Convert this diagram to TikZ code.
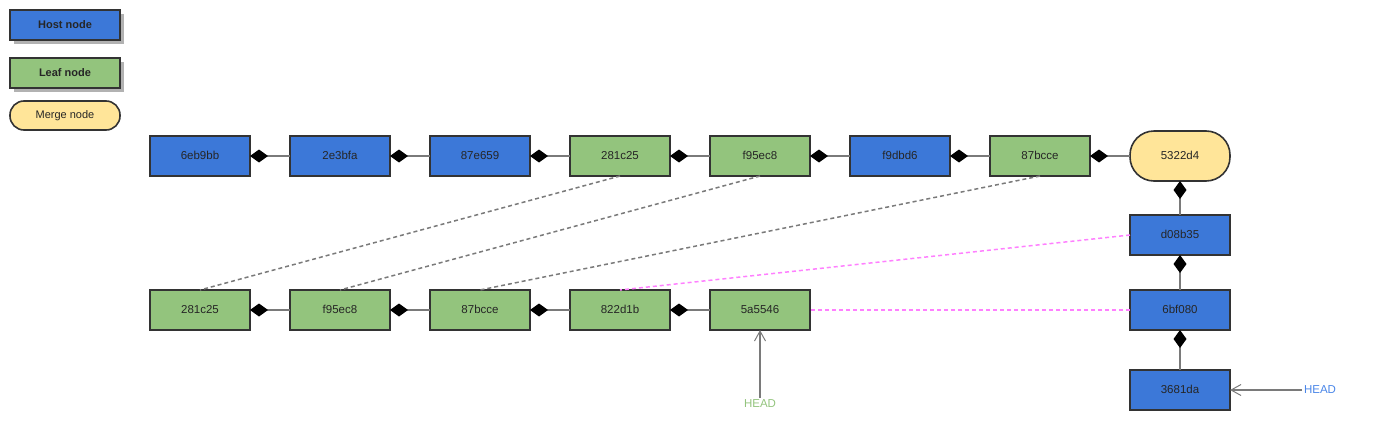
\documentclass[tikz,border=0pt]{standalone}
\usepackage{fontspec}
\setmainfont{Liberation Sans}
\usetikzlibrary{arrows.meta,positioning,shadows}

\definecolor{hostblue}{HTML}{3C78D8}
\definecolor{leafgreen}{HTML}{93C47D}
\definecolor{mergeyellow}{HTML}{FFE599}
\definecolor{edgegray}{HTML}{7A7A7A}
\definecolor{linkpink}{HTML}{FF80FF}
\definecolor{headblue}{HTML}{4A86E8}

\tikzset{
  commit/.style={draw=black!80, line width=1.6pt, minimum width=100pt, minimum height=40pt,
    inner sep=0pt, outer sep=0pt, text=black!85, text height=8.5pt, text depth=2.5pt,
    font=\fontsize{11.5}{13}\selectfont},
  host/.style={commit, fill=hostblue},
  leaf/.style={commit, fill=leafgreen},
  merge/.style={commit, fill=mergeyellow, rounded corners=24pt, minimum height=50pt},
  legend/.style={commit, minimum width=110pt, minimum height=30pt, font=\fontsize{11}{13}\selectfont\bfseries,
    drop shadow={shadow xshift=4pt, shadow yshift=-4pt, fill=black!30, opacity=1}},
  parent/.style={draw=edgegray, line width=1.5pt, -{Diamond[length=18pt,width=13pt,color=black]}},
  copied/.style={draw=edgegray, line width=1.5pt, dash pattern=on 4pt off 3pt},
  rebased/.style={draw=linkpink, line width=1.5pt, dash pattern=on 4pt off 3pt},
  headptr/.style={draw=edgegray, line width=1.5pt, -{Straight Barb[length=10pt,width=11pt,line width=1pt]}},
  headlabel/.style={font=\fontsize{11.5}{13}\selectfont, inner sep=2pt}
}

\begin{document}
\begin{tikzpicture}[x=1pt, y=-1pt]
    \useasboundingbox (0,0) rectangle (1388,431);

    % legend
    \node[legend, fill=hostblue] (lhost) at (65,25) {Host node};
    \node[legend, fill=leafgreen] (lleaf) at (65,73) {Leaf node};
    \node[commit, fill=mergeyellow, minimum width=110pt, minimum height=29pt, rounded corners=14pt,
      font=\fontsize{11}{13}\selectfont] (lmerge) at (65,115.5) {Merge node};

    % host branch
    \node[host] (t1) at (200,156) {6eb9bb};
    \node[host, right=40pt of t1] (t2) {2e3bfa};
    \node[host, right=40pt of t2] (t3) {87e659};
    \node[leaf, right=40pt of t3] (t4) {281c25};
    \node[leaf, right=40pt of t4] (t5) {f95ec8};
    \node[host, right=40pt of t5] (t6) {f9dbd6};
    \node[leaf, right=40pt of t6] (t7) {87bcce};
    \node[merge, right=40pt of t7] (m) {5322d4};
    \node[host, below=34pt of m] (d1) {d08b35};
    \node[host, below=35pt of d1] (d2) {6bf080};
    \node[host, below=40pt of d2] (d3) {3681da};

    % leaf branch
    \node[leaf] (b1) at (200,310) {281c25};
    \node[leaf, right=40pt of b1] (b2) {f95ec8};
    \node[leaf, right=40pt of b2] (b3) {87bcce};
    \node[leaf, right=40pt of b3] (b4) {822d1b};
    \node[leaf, right=40pt of b4] (b5) {5a5546};

    \node[headlabel, text=leafgreen] (h1) at (760,404) {HEAD};
    \node[headlabel, text=headblue] (h2) at (1320,390) {HEAD};

    \draw[parent] (t2) -- (t1);
    \draw[parent] (t3) -- (t2);
    \draw[parent] (t4) -- (t3);
    \draw[parent] (t5) -- (t4);
    \draw[parent] (t6) -- (t5);
    \draw[parent] (t7) -- (t6);
    \draw[parent] (m) -- (t7);
    \draw[parent] (d1) -- (m);
    \draw[parent] (d2) -- (d1);
    \draw[parent] (d3) -- (d2);

    \draw[parent] (b2) -- (b1);
    \draw[parent] (b3) -- (b2);
    \draw[parent] (b4) -- (b3);
    \draw[parent] (b5) -- (b4);

    \draw[copied] (t4.south) -- (b1.north);
    \draw[copied] (t5.south) -- (b2.north);
    \draw[copied] (t7.south) -- (b3.north);
    \draw[rebased] (d1.west) -- (b4.north);
    \draw[rebased] (d2.west) -- (b5.east);

    \draw[headptr] (h1.north) -- (b5.south);
    \draw[headptr] (h2.west) -- (d3.east);
\end{tikzpicture}
\end{document}
